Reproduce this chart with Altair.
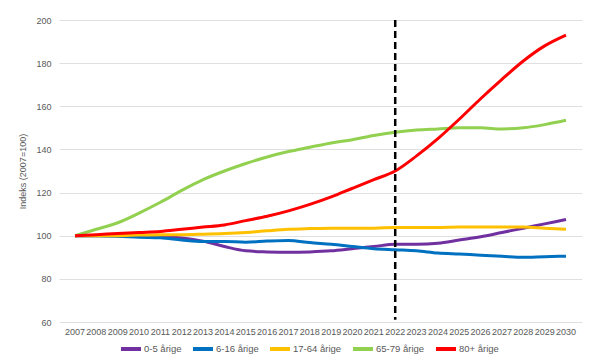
import altair as alt
import pandas as pd

years = [str(y) for y in range(2007, 2031)]
series_names = ["0-5 årige", "6-16 årige", "17-64 årige", "65-79 årige", "80+ årige"]
colors = ["#7030A0", "#0070C0", "#FFC000", "#92D050", "#FF0000"]

v_0_5 = [100, 100, 100, 100, 99.8, 99, 97.5, 95, 93, 92.5, 92.3, 92.5, 93, 94, 95, 96,
         96, 96.5, 98, 99.5, 101.5, 103.5, 105.5, 107.5]
v_6_16 = [100, 100, 99.8, 99.3, 99, 98, 97.3, 97.3, 97, 97.5, 97.8, 96.8, 96, 95, 94, 93.5,
          93, 92, 91.5, 91, 90.5, 90, 90.3, 90.5]
v_17_64 = [100, 100, 100, 100.3, 100.5, 100.5, 100.7, 101, 101.5, 102.3, 103, 103.3, 103.5,
           103.5, 103.5, 103.8, 103.8, 103.8, 104, 104, 104, 104, 103.5, 103]
v_65_79 = [100, 103, 106, 110.5, 115.5, 121, 126, 130, 133.5, 136.5, 139, 141, 143, 144.5,
           146.5, 148, 149, 149.5, 150, 150, 149.5, 150, 151.5, 153.5]
v_80 = [100, 100.5, 101, 101.5, 102, 103, 104, 105, 107, 109, 111.5, 114.5, 118, 122, 126,
        130, 137, 145, 154, 163.5, 172.5, 181, 188, 193]

marker_year = "2022"
marker_top = 200
marker_bottom = 61

rows = []
for name, vals in zip(series_names, [v_0_5, v_6_16, v_17_64, v_65_79, v_80]):
    for yr, v in zip(years, vals):
        rows.append({"year": yr, "value": v, "series": name})
df = pd.DataFrame(rows)

font = "Liberation Sans"
gray = "#595959"
fs = 9

x_enc = alt.X("year:O", sort=years,
              scale=alt.Scale(domain=years, padding=0.5),
              axis=alt.Axis(title=None, labelAngle=0, labelFontSize=fs, labelColor=gray,
                            labelFont=font, domain=False, ticks=False, grid=False,
                            labelPadding=5, labelOverlap=False))

lines = alt.Chart(df).mark_line(strokeWidth=3, interpolate="monotone").encode(
    x=x_enc,
    y=alt.Y("value:Q", scale=alt.Scale(domain=[60, 200], nice=False),
            axis=alt.Axis(title="Indeks (2007=100)", values=[60, 80, 100, 120, 140, 160, 180, 200],
                          labelFontSize=fs, labelColor=gray, labelFont=font,
                          titleFontSize=fs, titleColor=gray, titleFont=font, titleFontWeight="normal",
                          domain=False, ticks=False, gridColor="#E0E0E0", gridWidth=1,
                          labelPadding=8, titlePadding=8)),
    color=alt.Color("series:N", sort=series_names,
                    scale=alt.Scale(domain=series_names, range=colors),
                    legend=alt.Legend(title=None, orient="none", legendX=60, legendY=317,
                                      direction="horizontal",
                                      symbolType="stroke", symbolStrokeWidth=4, symbolSize=400,
                                      labelFontSize=fs + 0.5, labelColor=gray, labelFont=font,
                                      labelOffset=1, columnPadding=3)),
    order=alt.Order("series:N"),
    detail="series:N",
)

rule_df = pd.DataFrame({"year": [marker_year], "top": [marker_top], "bottom": [marker_bottom]})
rule = alt.Chart(rule_df).mark_rule(color="black", strokeWidth=2.5, strokeDash=[7, 4]).encode(
    x=alt.X("year:O", sort=years),
    y="top:Q",
    y2="bottom:Q",
)

chart = alt.layer(lines, rule).properties(
    width=523, height=302,
    autosize=alt.AutoSizeParams(type="none"),
    padding={"left": 51, "top": 12, "right": 5, "bottom": 37},
).configure_view(stroke=None)

chart.save("out.html", embed_options={"renderer": "svg", "actions": False})
